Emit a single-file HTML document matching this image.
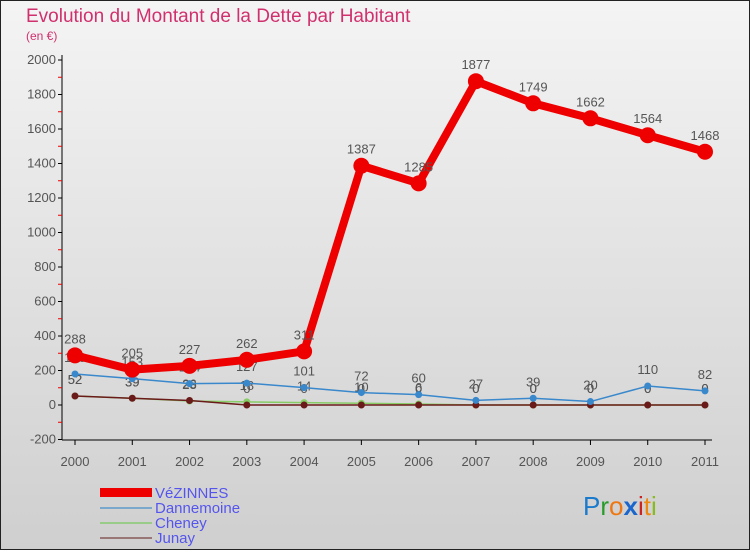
<!DOCTYPE html>
<html><head><meta charset="utf-8"><style>
body{margin:0;width:750px;height:550px;overflow:hidden;font-family:"Liberation Sans",sans-serif}
</style></head><body>
<svg id="c" width="750" height="550" xmlns="http://www.w3.org/2000/svg">
<defs><linearGradient id="bg" x1="0" y1="0" x2="0" y2="1"><stop offset="0" stop-color="#f4f4f4"/><stop offset="1" stop-color="#cfcfcf"/></linearGradient></defs>
<rect x="0.5" y="0.5" width="749" height="549" fill="url(#bg)" stroke="#222"/>
<text x="26" y="22" font-size="19" fill="#d0306e">Evolution du Montant de la Dette par Habitant</text>
<text x="26" y="40" font-size="12" fill="#d0306e">(en €)</text>
<g id="axes"></g><g id="series"></g>
<g font-size="15" fill="#5555ee">
<rect x="100" y="488" width="52" height="9" fill="#ee0000"/><text x="155" y="498">VéZINNES</text>
<line x1="100" y1="508" x2="152" y2="508" stroke="#7aa8cc" stroke-width="2"/><text x="155" y="513">Dannemoine</text>
<line x1="100" y1="523" x2="152" y2="523" stroke="#99cc88" stroke-width="2"/><text x="155" y="528">Cheney</text>
<line x1="100" y1="538" x2="152" y2="538" stroke="#997777" stroke-width="2"/><text x="155" y="543">Junay</text>
</g>
<g font-size="26">
<text x="583" y="515"><tspan fill="#1a7acc">P</tspan><tspan fill="#2a9a2a">r</tspan><tspan fill="#ee7711">o</tspan><tspan fill="#1a66cc" font-weight="bold">x</tspan><tspan fill="#cc2222">i</tspan><tspan fill="#ee8811">t</tspan><tspan fill="#88bb22">i</tspan></text>
</g>
</svg>
<script>
const years=["2000","2001","2002","2003","2004","2005","2006","2007","2008","2009","2010","2011"];
const yTicks=[-200,0,200,400,600,800,1000,1200,1400,1600,1800,2000];
const vezinnes=[288,205,227,262,311,1387,1285,1877,1749,1662,1564,1468];
const dannemoine=[180,153,124,127,101,72,60,27,39,20,110,82];
const cheney=[52,39,23,18,14,10,6,0,0,0,0,0];
const junay=[52,39,26,0,0,0,0,0,0,0,0,0];
const NS="http://www.w3.org/2000/svg";
const X=i=>75+i*(630/11), Y=v=>405-v*0.1725;
function mk(t,a,p){const e=document.createElementNS(NS,t);for(const k in a)e.setAttribute(k,a[k]);p.appendChild(e);return e;}
const ax=document.getElementById('axes'),sg=document.getElementById('series');
mk('line',{x1:62,y1:55,x2:62,y2:440,stroke:'#000'},ax);
mk('line',{x1:62,y1:440,x2:712,y2:440,stroke:'#000'},ax);
yTicks.forEach(v=>{mk('line',{x1:58,y1:Y(v),x2:62,y2:Y(v),stroke:'#000'},ax);
 if(v<2000)mk('line',{x1:58,y1:Y(v+100),x2:62,y2:Y(v+100),stroke:'#e00'},ax);
 const t=mk('text',{x:56,y:Y(v)+4,'text-anchor':'end','font-size':13,fill:'#555'},ax);t.textContent=v;
 });
years.forEach((y,i)=>{mk('line',{x1:X(i),y1:440,x2:X(i),y2:445,stroke:'#000'},ax);
 const t=mk('text',{x:X(i),y:466,'text-anchor':'middle','font-size':13,fill:'#555'},ax);t.textContent=y;
 });
function series(d,col,w,r,name,lab){
 const g=mk('g',{},sg);
 mk('polyline',{points:d.map((v,i)=>X(i)+','+Y(v)).join(' '),fill:'none',stroke:col,'stroke-width':w,'stroke-linejoin':'round'},g);
 d.forEach((v,i)=>{const c=mk('circle',{cx:X(i),cy:Y(v),r:r,fill:col},g);
  
  if(lab){const t=mk('text',{x:X(i),y:Y(v)-12,'text-anchor':'middle','font-size':13,fill:'#555'},g);t.textContent=v;}});
}
series(cheney,'#88cc66',1.5,3.5,'cheney-series',true);
series(junay,'#6b1a1a',1.5,3.5,'junay-series',true);
series(dannemoine,'#3a88cc',1.5,3.5,'dannemoine-series',true);
series(vezinnes,'#ee0000',8,8,'vezinnes-series',true);
</script>
</body></html>
